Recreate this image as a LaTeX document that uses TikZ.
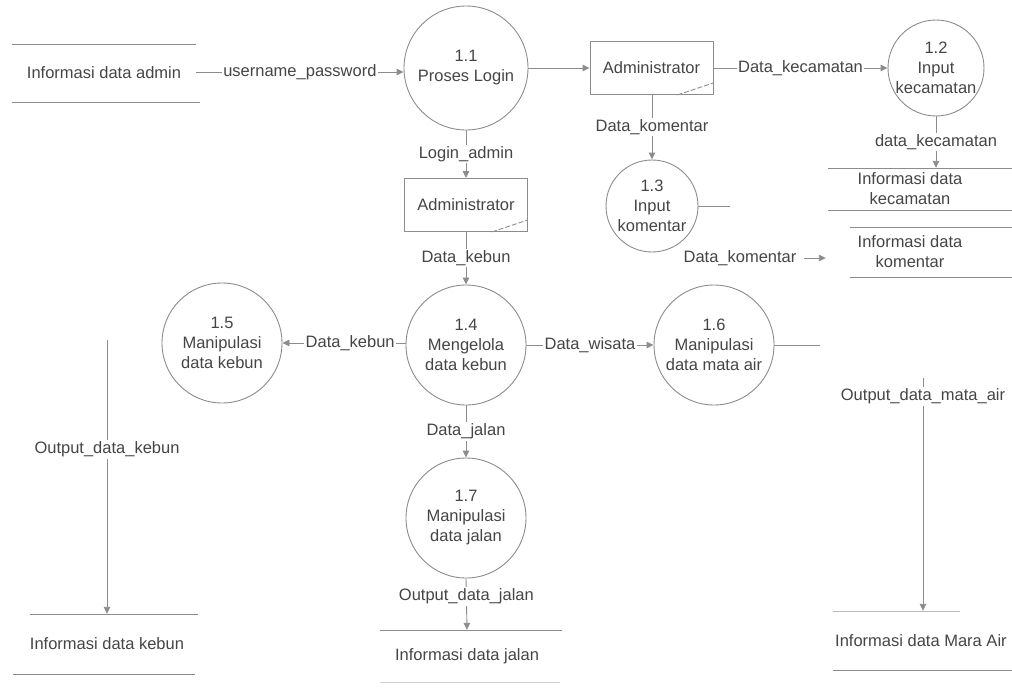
\documentclass[tikz,border=0pt]{standalone}
\usepackage{fontspec}
\setmainfont{Liberation Sans}
\usetikzlibrary{arrows.meta}
\definecolor{ink}{HTML}{454545}
\definecolor{wire}{HTML}{8C8C8C}
\begin{document}
\begin{tikzpicture}[x=1pt,y=-1pt,
  every node/.style={font=\fontsize{16.5}{20}\selectfont, text=ink},
  proc/.style={circle, draw=wire, line width=0.9pt, align=center, inner sep=0pt, minimum size=#1},
  adminbox/.style={rectangle, draw=wire, line width=0.9pt, minimum width=123pt, minimum height=53pt, inner sep=0pt},
  store/.style={align=center, inner sep=0pt},
  storeline/.style={draw=wire, line width=0.9pt},
  diag/.style={draw=wire, line width=0.9pt, dashed, dash pattern=on 5pt off 2pt},
  flow/.style={draw=wire, line width=0.9pt, -{Triangle[length=7pt,width=6.5pt]}},
  wireline/.style={draw=wire, line width=0.9pt},
  lbl/.style={fill=white, inner sep=1.5pt}]
\useasboundingbox (0,0) rectangle (1012,688);

% processes
\node[proc=124pt] (p11) at (466,68) {1.1\\Proses Login};
\node[proc=96pt]  (p12) at (936,68) {1.2\\Input\\kecamatan};
\node[proc=92pt]  (p13) at (652,206) {1.3\\Input\\komentar};
\node[proc=120pt] (p14) at (466,345) {1.4\\Mengelola\\data kebun};
\node[proc=120pt] (p15) at (222,343) {1.5\\Manipulasi\\data kebun};
\node[proc=120pt] (p16) at (714,345) {1.6\\Manipulasi\\data mata air};
\node[proc=120pt] (p17) at (466,518) {1.7\\Manipulasi\\data jalan};

% external entity boxes
\node[adminbox] (a1) at (651.5,68) {Administrator};
\node[adminbox] (a2) at (466,205) {Administrator};
\draw[diag] ([xshift=-36pt]a1.south east) -- ([yshift=12pt]a1.south east);
\draw[diag] ([xshift=-36pt]a2.south east) -- ([yshift=12pt]a2.south east);

% data stores
\node[store, minimum width=184pt, minimum height=58pt] (sAdmin) at (104,73) {Informasi data admin};
\node[store, minimum height=42pt] (sKec) at (910,189) {Informasi data\\kecamatan};
\node[store, minimum width=168pt, minimum height=50pt] (sKom) at (910,252) {Informasi data\\komentar};
\node[store, minimum height=60pt] (sKebun) at (107,644) {Informasi data kebun};
\node[store, minimum height=52pt] (sJalan) at (467,656) {Informasi data jalan};
\node[store, anchor=west, minimum height=60pt] (sMata) at (835,641) {Informasi data Mara Air};

\draw[storeline] (12,44) -- (196,44);
\draw[storeline] (12,102) -- (200,102);
\draw[storeline] (828,168) -- (1012,168);
\draw[storeline] (828,210) -- (1012,210);
\draw[storeline] (850,227) -- (1012,227);
\draw[storeline] (850,277) -- (1012,277);
\draw[storeline] (30,614) -- (198,614);
\draw[storeline] (13,674) -- (195,674);
\draw[storeline] (380,630) -- (562,630);
\draw[storeline, draw=wire!40] (380,682) -- (560,682);
\draw[storeline, draw=wire!60] (833,611) -- (960,611);
\draw[storeline] (833,670) -- (1012,670);

% free ends of flows
\coordinate (c13) at (730,206);
\coordinate (c16) at (820,345);
\coordinate (c15) at (107,340);
\coordinate (c16b) at (923,378);

% flows
\draw[flow] (sAdmin.east |- 0,72) -- node[lbl]{username\_password} (p11.west |- 0,72);
\draw[flow] (p11.east) -- (a1.west);
\draw[flow] (a1.east) -- node[lbl, pos=0.5]{Data\_kecamatan} (p12.west);
\draw[flow] (a1.south -| p13) -- node[lbl]{Data\_komentar} (p13.north);
\draw[flow] (p12.south) -- node[lbl]{data\_kecamatan} (p12.south |- sKec.north);
\draw[wireline] (p13.east) -- (c13);
\node[lbl] (lKom) at (740,258) {Data\_komentar};
\draw[flow] ([xshift=6pt]lKom.east) -- (lKom.east -| sKom.west);
\draw[flow] (p11.south) -- node[lbl]{Login\_admin} (a2.north);
\draw[flow] (a2.south) -- node[lbl]{Data\_kebun} (p14.north);
\draw[flow] (p14.west |- p15) -- node[lbl, pos=0.45]{Data\_kebun} (p15.east);
\draw[flow] (p14.east) -- node[lbl, pos=0.5]{Data\_wisata} (p16.west);
\draw[wireline] (p16.east) -- (c16);
\draw[flow] (p14.south) -- node[lbl]{Data\_jalan} (p17.north);
\draw[flow] (p17.south) -- node[lbl, pos=0.35]{Output\_data\_jalan} (sJalan.north);
\draw[flow] (c15) -- node[lbl, pos=0.4]{Output\_data\_kebun} (sKebun.north);
\draw[flow] (c16b) -- node[lbl, pos=0.08]{Output\_data\_mata\_air} (c16b |- sMata.north);
\end{tikzpicture}
\end{document}
